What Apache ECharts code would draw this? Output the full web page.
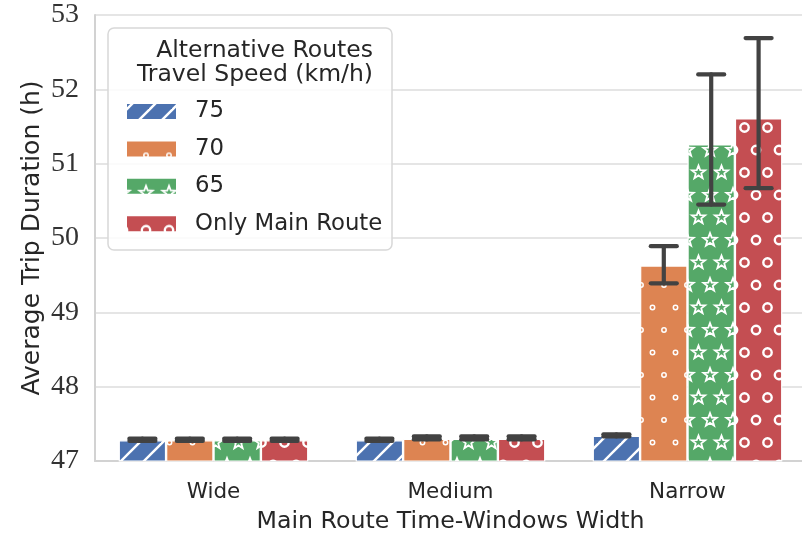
<!DOCTYPE html>
<html>
<head>
<meta charset="utf-8">
<script src="https://cdn.jsdelivr.net/npm/echarts@6/dist/echarts.min.js"></script>
<style>
  html, body { margin: 0; padding: 0; background: #fff; }
  #chart { width: 802px; height: 536px; }
</style>
</head>
<body>
<div id="chart"></div>
<script>
// Categories of main-route time-window width
const categories = ['Wide', 'Medium', 'Narrow'];

// Legend entries (alternative route travel speed)
const seriesNames = ['75', '70', '65', 'Only Main Route'];

// Mean trip duration (h) per category
const speed75 = [47.28, 47.28, 47.34];
const speed70 = [47.28, 47.30, 49.63];
const speed65 = [47.28, 47.30, 51.26];
const mainOnly = [47.28, 47.30, 51.61];

// Confidence interval bounds (h)
const low75 = [47.27, 47.27, 47.33];
const high75 = [47.30, 47.30, 47.36];
const low70 = [47.27, 47.29, 49.39];
const high70 = [47.30, 47.33, 49.89];
const low65 = [47.27, 47.29, 50.45];
const high65 = [47.30, 47.33, 52.20];
const lowMain = [47.27, 47.29, 50.67];
const highMain = [47.30, 47.33, 52.69];

// Value axis range
const yMin = 47, yMax = 53, yStep = 1;

const colors = ['#4C72B0', '#DD8452', '#55A868', '#C44E52'];
const SANS = '"DejaVu Sans", sans-serif';
const SERIF = '"Liberation Serif", "DejaVu Serif", serif';

// ---- hatch tiles ----
function tileCanvas(w, h, bg) {
  const c = document.createElement('canvas');
  c.width = w; c.height = h;
  const ctx = c.getContext('2d');
  ctx.fillStyle = bg;
  ctx.fillRect(0, 0, w, h);
  return [c, ctx];
}
// draw at a point plus its wrapped copies so the tile repeats seamlessly
function wrapped(w, h, x, y, fn) {
  for (let dx = -w; dx <= w; dx += w)
    for (let dy = -h; dy <= h; dy += h) fn(x + dx, y + dy);
}
const LAT_W = 23, LAT_H = 45;
const latticePts = [[8.5, 37.5], [20, 15]];

function diagTile(bg) {
  const [c, ctx] = tileCanvas(23, 23, bg);
  ctx.strokeStyle = '#fff';
  ctx.lineWidth = 2.4;
  [-16, 7, 30, 53].forEach(k => {
    ctx.beginPath();
    ctx.moveTo(k + 30, -30);
    ctx.lineTo(k - 30, 30);
    ctx.stroke();
  });
  return { image: c, repeat: 'repeat' };
}
function ringTile(bg, r, lw) {
  const [c, ctx] = tileCanvas(LAT_W, LAT_H, bg);
  ctx.strokeStyle = '#fff';
  ctx.lineWidth = lw;
  latticePts.forEach(([px, py]) => wrapped(LAT_W, LAT_H, px, py, (x, y) => {
    ctx.beginPath();
    ctx.arc(x, y, r, 0, Math.PI * 2);
    ctx.stroke();
  }));
  return { image: c, repeat: 'repeat' };
}
function starTile(bg) {
  const [c, ctx] = tileCanvas(LAT_W, LAT_H, bg);
  ctx.strokeStyle = '#fff';
  ctx.lineWidth = 1.8;
  ctx.lineJoin = 'miter';
  const R = 7, ri = 2.9;
  latticePts.forEach(([px, py]) => wrapped(LAT_W, LAT_H, px, py, (x, y) => {
    ctx.beginPath();
    for (let i = 0; i < 10; i++) {
      const a = -Math.PI / 2 + i * Math.PI / 5;
      const rr = i % 2 === 0 ? R : ri;
      const xx = x + rr * Math.cos(a), yy = y + rr * Math.sin(a);
      if (i === 0) ctx.moveTo(xx, yy); else ctx.lineTo(xx, yy);
    }
    ctx.closePath();
    ctx.stroke();
  }));
  return { image: c, repeat: 'repeat' };
}

const fills = [
  diagTile(colors[0]),
  ringTile(colors[1], 2.2, 1.5),
  starTile(colors[2]),
  ringTile(colors[3], 4.2, 2.4)
];

const means = [speed75, speed70, speed65, mainOnly];
const lows = [low75, low70, low65, lowMain];
const highs = [high75, high70, high65, highMain];

const barSeries = seriesNames.map((name, i) => ({
  name: name,
  type: 'bar',
  data: means[i],
  barGap: '0%',
  barCategoryGap: '20%',
  itemStyle: { color: fills[i], borderColor: '#fff', borderWidth: 1.2 },
  emphasis: { disabled: true },
  z: 2
}));

// Error bars drawn on top of each bar
const errSeries = seriesNames.map((name, i) => ({
  type: 'custom',
  data: categories.map((c, k) => [k, lows[i][k], highs[i][k]]),
  z: 5,
  silent: true,
  renderItem: function (params, api) {
    const band = api.size([1, 0])[0];
    const bw = band * 0.8 / 4;
    const off = (i - 1.5) * bw;
    const lo = api.coord([api.value(0), api.value(1)]);
    const hi = api.coord([api.value(0), api.value(2)]);
    const x = lo[0] + off;
    const cap = 13;
    const style = { stroke: '#424242', lineWidth: 4.2, lineCap: 'round' };
    return {
      type: 'group',
      children: [
        { type: 'line', shape: { x1: x, y1: lo[1], x2: x, y2: hi[1] }, style },
        { type: 'line', shape: { x1: x - cap, y1: lo[1], x2: x + cap, y2: lo[1] }, style },
        { type: 'line', shape: { x1: x - cap, y1: hi[1], x2: x + cap, y2: hi[1] }, style }
      ]
    };
  }
}));

const chart = echarts.init(document.getElementById('chart'), null, { renderer: 'canvas' });
chart.setOption({
  animation: false,
  backgroundColor: '#fff',
  grid: { left: 95, top: 15, width: 711, height: 446, containLabel: false, outerBoundsMode: 'none' },
  xAxis: {
    type: 'category',
    data: categories,
    axisLine: { lineStyle: { color: '#d2d2d2', width: 2 } },
    axisTick: { show: false },
    axisLabel: { fontFamily: SANS, fontSize: 21.5, color: '#262626', margin: 20 },
    name: 'Main Route Time-Windows Width',
    nameLocation: 'middle',
    nameGap: 49,
    nameMoveOverlap: false,
    nameTextStyle: { fontFamily: SANS, fontSize: 23.7, color: '#262626' }
  },
  yAxis: {
    type: 'value',
    min: yMin, max: yMax, interval: yStep,
    axisLine: { show: true, lineStyle: { color: '#d2d2d2', width: 2 } },
    axisTick: { show: false },
    splitLine: { lineStyle: { color: '#dcdcdc', width: 1.6 } },
    axisLabel: { fontFamily: SERIF, fontSize: 28, color: '#333', margin: 16 },
    name: 'Average Trip Duration (h)',
    nameLocation: 'middle',
    nameGap: 50,
    nameMoveOverlap: false,
    nameTextStyle: { fontFamily: SANS, fontSize: 25, color: '#262626' }
  },
  legend: {
    data: seriesNames,
    orient: 'vertical',
    left: 120, top: 95,
    itemWidth: 51, itemHeight: 17, itemGap: 14.4,
    icon: 'rect',
    selectedMode: false,
    textStyle: { fontFamily: SANS, fontSize: 22.8, color: '#262626', padding: [0, 0, 0, 13] },
    z: 20
  },
  graphic: [
    {
      type: 'rect', z: 15, silent: true,
      shape: { x: 108, y: 28, width: 284, height: 222, r: 6 },
      style: { fill: 'rgba(255,255,255,0.85)', stroke: '#d8d8d8', lineWidth: 1.5 }
    },
    {
      type: 'text', z: 16, silent: true,
      style: { x: 373, y: 51, text: 'Alternative Routes', textAlign: 'right', textVerticalAlign: 'middle',
               fontFamily: SANS, fontSize: 23.5, fill: '#262626' }
    },
    {
      type: 'text', z: 16, silent: true,
      style: { x: 373, y: 75, text: 'Travel Speed (km/h)', textAlign: 'right', textVerticalAlign: 'middle',
               fontFamily: SANS, fontSize: 23.5, fill: '#262626' }
    }
  ],
  series: barSeries.concat(errSeries)
});
</script>
</body>
</html>
